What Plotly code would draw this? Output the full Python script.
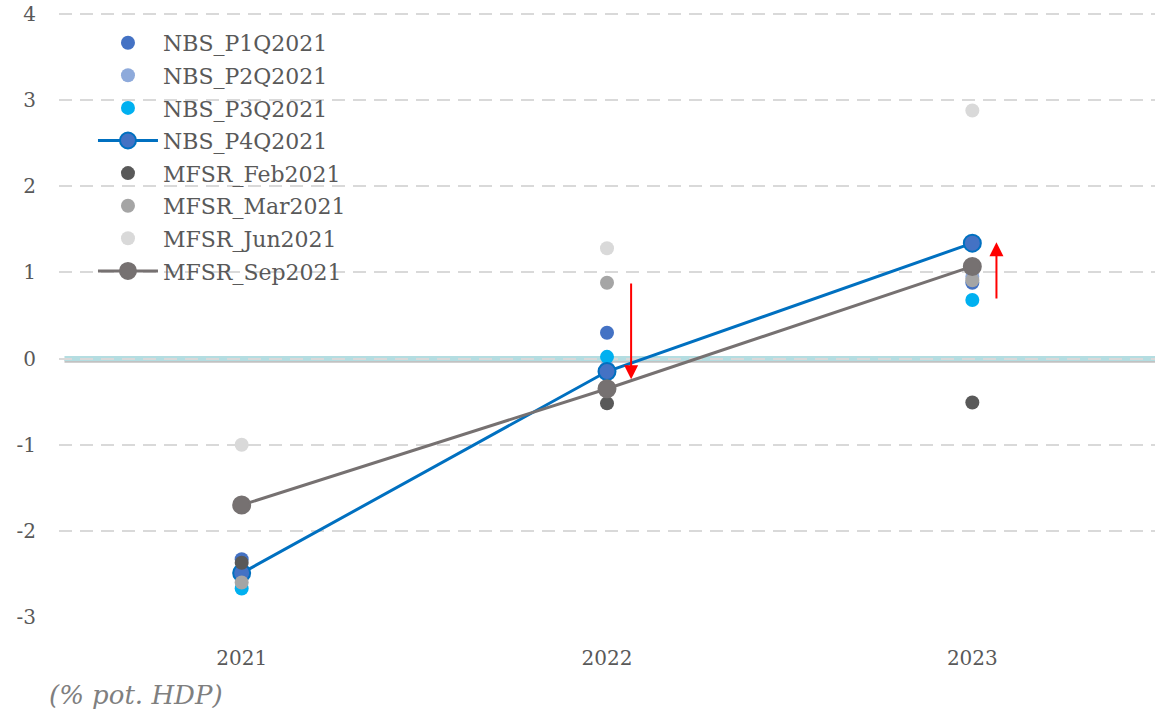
import plotly.graph_objects as go

years = [2021, 2022, 2023]

nbs_p1q2021 = [-2.33, 0.30, 0.88]
nbs_p2q2021 = [-2.45, -0.10, 0.95]
nbs_p3q2021 = [-2.67, 0.02, 0.68]
nbs_p4q2021 = [-2.49, -0.15, 1.34]
mfsr_feb2021 = [-2.37, -0.52, -0.51]
mfsr_mar2021 = [-2.60, 0.88, 0.91]
mfsr_jun2021 = [-1.00, 1.28, 2.88]
mfsr_sep2021 = [-1.70, -0.35, 1.07]

y_ticks = [-3, -2, -1, 0, 1, 2, 3, 4]
y_tick_text = ["-3", "-2", "-1", "0", "1", "2", "3", "4"]
x_ticks = ["2021", "2022", "2023"]

FONT = "DejaVu Serif"
TXT = "#595959"

fig = go.Figure()

def dots(name, values, color, size=14):
    fig.add_trace(go.Scatter(
        x=years, y=values, name=name, mode="markers", legendgroup=name,
        marker=dict(color=color, size=size, line=dict(width=0)),
        cliponaxis=False,
    ))

def linked(name, values, line_color, fill_color, size=17):
    fig.add_trace(go.Scatter(
        x=years, y=values, name=name, mode="lines+markers", legendgroup=name,
        line=dict(color=line_color, width=3),
        marker=dict(color=fill_color, size=size, line=dict(color=line_color, width=2)),
        cliponaxis=False,
    ))

dots("NBS_P1Q2021", nbs_p1q2021, "#4472c4")
dots("NBS_P2Q2021", nbs_p2q2021, "#8eaadb")
dots("NBS_P3Q2021", nbs_p3q2021, "#00b0f0")
linked("NBS_P4Q2021", nbs_p4q2021, "#0070c0", "#4472c4")
dots("MFSR_Feb2021", mfsr_feb2021, "#595959")
dots("MFSR_Mar2021", mfsr_mar2021, "#a5a5a5")
dots("MFSR_Jun2021", mfsr_jun2021, "#d9d9d9")
linked("MFSR_Sep2021", mfsr_sep2021, "#767171", "#767171")

# zero axis: soft shadow under a teal band
fig.add_shape(type="line", xref="paper", yref="y", x0=0.005, x1=1, y0=-0.03, y1=-0.03,
              line=dict(color="rgba(120,120,120,0.45)", width=3), layer="below")
fig.add_shape(type="line", xref="paper", yref="y", x0=0.005, x1=1, y0=0, y1=0,
              line=dict(color="#b4dde1", width=5), layer="below")

# red arrows showing the shift of the latest forecast
arrow = dict(showarrow=True, arrowhead=2, arrowsize=1.4, arrowwidth=2, arrowcolor="#ff0000",
             xref="x", yref="y", axref="x", ayref="y", text="")
fig.add_annotation(x=2022.066, y=-0.24, ax=2022.066, ay=0.89, **arrow)
fig.add_annotation(x=2023.066, y=1.35, ax=2023.066, ay=0.68, **arrow)

fig.add_annotation(text="<i>(% pot. HDP)</i>", xref="paper", yref="paper",
                   x=-0.011, y=-0.128, xanchor="left", yanchor="middle", showarrow=False,
                   font=dict(family=FONT, size=26, color="#7f7f7f"))

fig.update_layout(
    width=1155, height=711,
    margin=dict(l=59, r=0, t=11, b=94),
    paper_bgcolor="white", plot_bgcolor="white",
    font=dict(family=FONT, color=TXT, size=20),
    showlegend=True,
    legend=dict(x=0.031, y=0.982, xanchor="left", yanchor="top",
                bgcolor="rgba(0,0,0,0)", font=dict(family=FONT, size=22, color=TXT),
                tracegroupgap=1, itemwidth=60),
    xaxis=dict(range=[2020.5, 2023.5], tickvals=years, ticktext=x_ticks,
               showgrid=False, zeroline=False, showline=False, ticks="",
               ticklabelstandoff=27, tickfont=dict(size=20, color=TXT)),
    yaxis=dict(range=[-3, 4.035], tickvals=y_ticks, ticktext=y_tick_text, showgrid=True,
               gridcolor="#d9d9d9", gridwidth=2, griddash="13px,8px", zeroline=False,
               showline=False, ticks="", ticklabelstandoff=22,
               tickfont=dict(size=20, color=TXT)),
)

fig.write_html("out.html")
